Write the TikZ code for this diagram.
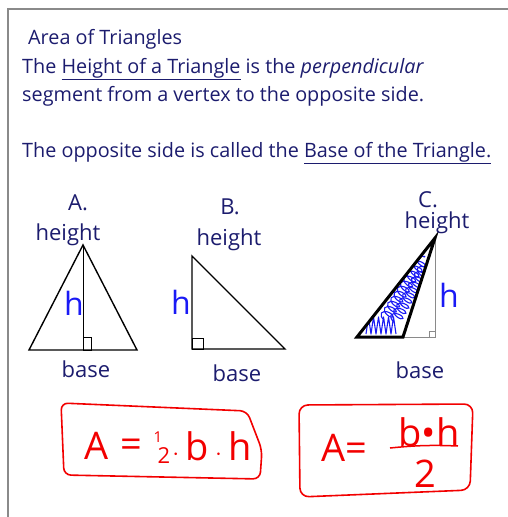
\documentclass[tikz,border=0pt]{standalone}
\usepackage{fontspec}
\setmainfont{Open Sans}
\usetikzlibrary{decorations.pathmorphing}
\definecolor{Navy}{HTML}{1C1C6E}
\definecolor{Pen}{HTML}{1A1AF5}
\definecolor{Marker}{HTML}{F20000}
\definecolor{Frame}{HTML}{8A8A8A}

\begin{document}
\begin{tikzpicture}[x=1pt,y=-1pt,
  txt/.style={text=Navy,inner sep=0pt,font=\fontsize{19.8}{22}\selectfont},
  lbl/.style={text=Navy,inner sep=0pt,font=\fontsize{22}{24}\selectfont},
  hand/.style={text=Pen,inner sep=0pt,font=\fontsize{32}{34}\selectfont},
  rednum/.style={text=Marker,inner sep=0pt,font=\fontsize{38}{40}\selectfont},
  tri/.style={black,line width=1.4pt,line join=miter},
  redbox/.style={Marker,line width=1.6pt,rounded corners=7pt},
  scribble/.style={Pen,line width=1.1pt,decorate,decoration={coil,amplitude=6pt,segment length=6pt}}]
\useasboundingbox (0,0) rectangle (508,517);
\draw[Frame,line width=1.5pt] (8,517) -- (8,9) -- (508,9);

% definition text
\node[txt,anchor=base west] (title) at (28,44) {Area of Triangles};
\node[txt,anchor=base west] (def1) at (22,73) {The \underline{Height of a Triangle} is the \textit{perpendicular}};
\node[txt,anchor=base west] (def2) at (22,101) {segment from a vertex to the opposite side.};
\node[txt,anchor=base west] (def3) at (22,157) {The opposite side is called the \underline{Base of the Triangle.}};

% A
\coordinate (Aa) at (83,245);
\coordinate (Al) at (29,350);
\coordinate (Ar) at (137,350);
\coordinate (Af) at (83,350);
\draw[tri] (Al) -- (Ar) -- (Aa) -- cycle;
\draw[thin] (Aa) -- (Af);
\draw[thin] (83,337) rectangle (91,350);
\node[lbl] (Aname) at (78,203) {A.};
\node[lbl] (Aheight) at (68,235) {height};
\node[hand] (Ah) at (74,303) {h};
\node[lbl] (Abase) at (86,369) {base};

% B
\coordinate (Ba) at (192,256);
\coordinate (Bc) at (192,349);
\coordinate (Br) at (285,349);
\draw[tri] (Ba) -- (Bc) -- (Br) -- cycle;
\draw[thin] (192,338) rectangle (203,349);
\node[lbl] (Bname) at (230,207) {B.};
\node[lbl] (Bheight) at (229,240) {height};
\node[hand] (Bh) at (181,302) {h};
\node[lbl] (Bbase) at (237,373) {base};

% C
\coordinate (Cl) at (357,337);
\coordinate (Cr) at (403,337);
\coordinate (Ca) at (435,238);
\coordinate (Cf) at (435,337);
\begin{scope}
  \clip (Cl) -- (Cr) -- (Ca) -- cycle;
  \draw[scribble] (384,320) -- (425,256);
  \draw[scribble] (394,322) -- (428,262);
  \draw[Pen,line width=1.1pt,line join=round] (366,334) \foreach \i in {1,...,6} {-- ++(2.5,-17) -- ++(2.5,17)};
\end{scope}
\draw[Frame,line width=0.9pt] (Cr) -- (Cf) -- (Ca);
\draw[Frame,line width=0.7pt] (429,331) rectangle (435,337);
\draw[black,line width=3pt,line join=miter] (Cl) -- (Cr) -- (Ca) -- cycle;
\node[lbl] (Cname) at (428,200) {C.};
\node[lbl] (Cheight) at (437,223) {height};
\node[hand] (Ch) at (449,295) {h};
\node[lbl] (Cbase) at (420,370) {base};

% formulas
\draw[redbox] (61,403) -- (247,411) -- (262,450) -- (260,479) -- (64,475) -- cycle;
\node[rednum] (f1A) at (97,446) {A};
\node[rednum] (f1eq) at (131,448) {=};
\node[text=Marker,inner sep=0pt,font=\fontsize{15}{15}\selectfont] (f1one) at (158,437) {1};
\node[text=Marker,inner sep=0pt,font=\fontsize{22}{22}\selectfont] (f1two) at (164,456) {2};
\node[rednum] (f1rest) at (212,446) {$\cdot$\,b\,$\cdot$\,h};

\draw[redbox,rounded corners=9pt] (299,405) -- (473,404) -- (470,490) -- (300,497) -- cycle;
\node[rednum] (f2A) at (344,448) {A=};
\node[rednum] (f2num) at (429,432) {b\textbullet h};
\node[rednum] (f2den) at (425,474) {2};
\coordinate (barL) at (390,448);
\coordinate (barR) at (458,446);
\draw[Marker,line width=1.5pt] (barL) to[bend left=4] (barR);
\end{tikzpicture}
\end{document}
